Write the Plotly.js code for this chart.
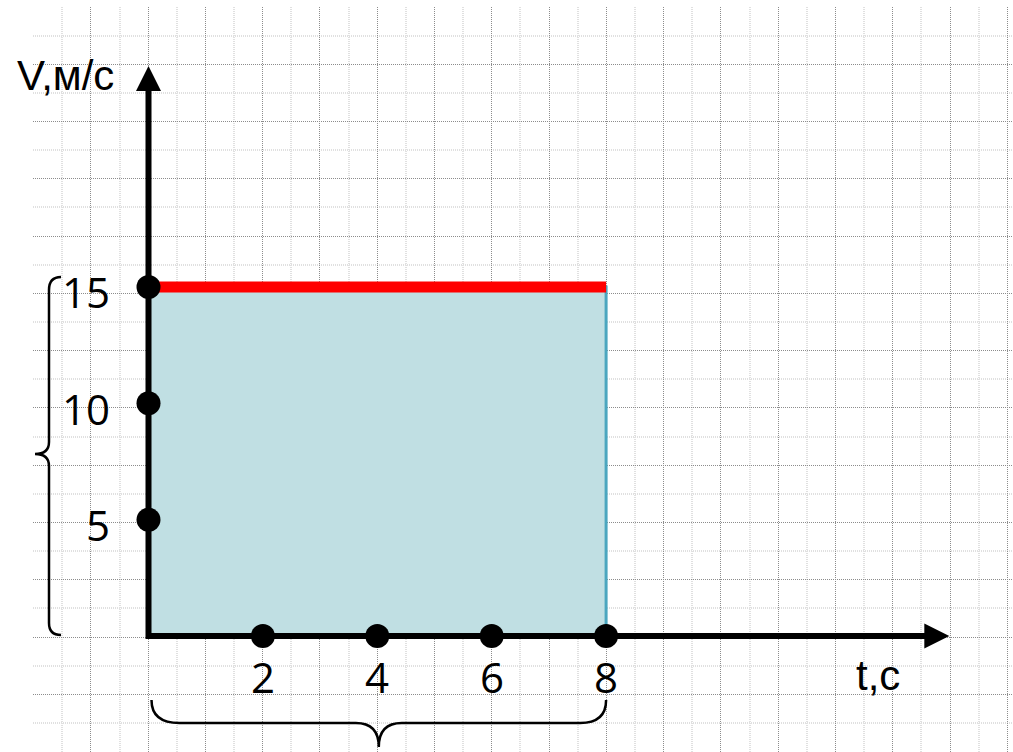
<!DOCTYPE html>
<html>
<head>
<meta charset="utf-8">
<script src="https://cdn.plot.ly/plotly-3.0.1.min.js"></script>
<style>
  html, body { margin: 0; padding: 0; background: #ffffff; }
  #chart { width: 1013px; height: 752px; }
</style>
</head>
<body>
<div id="chart"></div>
<script>
// ---- data ----
const tInterval = [0, 8];          // motion time, s
const vConstant = 15;              // constant speed, m/s
const tTickVals = [2, 4, 6, 8];
const tTickText = ['2', '4', '6', '8'];
const vTickVals = [5, 10, 15];
const vTickText = ['5', '10', '15'];
const tAxisTitle = 't,с';
const vAxisTitle = 'V,м/с';
const tAxisEnd = 14;               // arrow tip of time axis
const vAxisEnd = 24.5;             // arrow tip of speed axis

// ---- geometry (page pixels) ----
const W = 1013, H = 752;
const X0 = 148.5, XU = 57.2;       // t = 0 position, px per second
const Y0 = 636, YU = 23.27;        // v = 0 position, px per m/s
const GRID_X0 = 33.6, GRID_Y0 = 7, CELL = 28.64;

const xPx = t => X0 + t * XU;
const yPx = v => Y0 - v * YU;
const px = (x, y) => (x / W).toFixed(5) + ',' + (1 - y / H).toFixed(5);

const t0 = tInterval[0], t1 = tInterval[1];

const traces = [
  // empty trace to keep grid subplot alive
  { x: [], y: [], xaxis: 'x', yaxis: 'y', type: 'scatter', mode: 'markers', hoverinfo: 'skip', showlegend: false },
  // area under v(t)
  {
    x: [t0, t1, t1, t0, t0], y: [0, 0, vConstant, vConstant, 0],
    xaxis: 'x2', yaxis: 'y2', type: 'scatter', mode: 'lines',
    fill: 'toself', fillcolor: '#c0dfe3',
    line: { color: '#4ba6bf', width: 3 }, hoverinfo: 'skip', showlegend: false
  },
  // v(t) = const
  {
    x: [t0, t1], y: [vConstant, vConstant],
    xaxis: 'x2', yaxis: 'y2', type: 'scatter', mode: 'lines',
    line: { color: '#ff0000', width: 11 }, hoverinfo: 'skip', showlegend: false
  },
  // axes shafts
  {
    x: [tAxisEnd - 0.3, 0, 0], y: [0, 0, vAxisEnd - 0.8],
    xaxis: 'x2', yaxis: 'y2', type: 'scatter', mode: 'lines',
    line: { color: '#000000', width: 6 }, hoverinfo: 'skip', showlegend: false
  },
  // points on t-axis
  {
    x: tTickVals, y: tTickVals.map(() => 0),
    xaxis: 'x2', yaxis: 'y2', type: 'scatter', mode: 'markers',
    marker: { color: '#000000', size: 24 }, hoverinfo: 'skip', showlegend: false
  },
  // points on v-axis
  {
    x: vTickVals.map(() => 0), y: vTickVals,
    xaxis: 'x2', yaxis: 'y2', type: 'scatter', mode: 'markers',
    marker: { color: '#000000', size: 24 }, hoverinfo: 'skip', showlegend: false
  }
];

const tickFont = { family: '"Open Sans", "Noto Sans", sans-serif', size: 42, color: '#000000' };
const titleFont = { family: '"Liberation Sans", Arial, sans-serif', size: 42, color: '#000000' };

const annotations = [];
tTickVals.forEach((t, i) => annotations.push({
  x: t, y: 0, xref: 'x2', yref: 'y2', text: tTickText[i], showarrow: false,
  xanchor: 'center', yanchor: 'middle', yshift: -40, font: tickFont
}));
vTickVals.forEach((v, i) => annotations.push({
  x: 0, y: v, xref: 'x2', yref: 'y2', text: vTickText[i], showarrow: false,
  xanchor: 'right', yanchor: 'middle', xshift: -37, yshift: -5, font: tickFont
}));
// arrow heads
annotations.push({
  x: tAxisEnd, y: 0, xref: 'x2', yref: 'y2', text: '', showarrow: true,
  ax: -40, ay: 0, arrowhead: 2, arrowsize: 1, arrowwidth: 5, arrowcolor: '#000000', standoff: 0
});
annotations.push({
  x: 0, y: vAxisEnd, xref: 'x2', yref: 'y2', text: '', showarrow: true,
  ax: 0, ay: 40, arrowhead: 2, arrowsize: 1, arrowwidth: 5, arrowcolor: '#000000', standoff: 0
});
// axis titles
annotations.push({
  x: 15 / W, y: 1 - 75.5 / H, xref: 'paper', yref: 'paper', text: vAxisTitle, showarrow: false,
  xanchor: 'left', yanchor: 'middle', font: titleFont
});
annotations.push({
  x: 878 / W, y: 1 - 675.5 / H, xref: 'paper', yref: 'paper', text: tAxisTitle, showarrow: false,
  xanchor: 'center', yanchor: 'middle', font: titleFont
});

// braces (decoration), built from the data extents
const bx0 = xPx(t0) + 3, bx1 = xPx(t1), bxm = (bx0 + bx1) / 2;
const byTop = 700, byMid = 723, byTip = 747;
const bottomBrace = 'M' + px(bx0, byTop) +
  ' Q' + px(bx0, byMid) + ' ' + px(bx0 + 28, byMid) +
  ' L' + px(bxm - 23, byMid) +
  ' Q' + px(bxm, byMid) + ' ' + px(bxm, byTip) +
  ' Q' + px(bxm, byMid) + ' ' + px(bxm + 23, byMid) +
  ' L' + px(bx1 - 26, byMid) +
  ' Q' + px(bx1, byMid) + ' ' + px(bx1, byTop);

const ly0 = yPx(0) - 1, ly1 = yPx(vConstant) - 10, lym = (ly0 + ly1) / 2 - 2;
const lxEnd = 61, lxMid = 49, lxTip = 35;
const leftBrace = 'M' + px(lxEnd, ly1) +
  ' Q' + px(lxMid, ly1) + ' ' + px(lxMid, ly1 + 13) +
  ' L' + px(lxMid, lym - 12) +
  ' Q' + px(lxMid, lym) + ' ' + px(lxTip, lym) +
  ' Q' + px(lxMid, lym) + ' ' + px(lxMid, lym + 12) +
  ' L' + px(lxMid, ly0 - 12) +
  ' Q' + px(lxMid, ly0) + ' ' + px(lxEnd, ly0);

const shapes = [
  { type: 'path', xref: 'paper', yref: 'paper', path: bottomBrace, line: { color: '#000000', width: 2.5 } },
  { type: 'path', xref: 'paper', yref: 'paper', path: leftBrace, line: { color: '#000000', width: 2.5 } }
];

const gridAxis = (t0g) => ({
  showgrid: true, gridcolor: '#8c8c8c', griddash: '1px,1px', gridwidth: 1,
  tick0: t0g, dtick: 2 * CELL, tickmode: 'linear',
  minor: { showgrid: true, tick0: t0g + CELL, dtick: 2 * CELL, gridcolor: '#e0e0e0', gridwidth: 2 },
  showticklabels: false, ticks: '', zeroline: false, showline: false, fixedrange: true
});

const layout = {
  width: W, height: H,
  margin: { l: 0, r: 0, t: 0, b: 0, pad: 0 },
  paper_bgcolor: '#ffffff', plot_bgcolor: 'rgba(0,0,0,0)',
  showlegend: false,
  xaxis: Object.assign(gridAxis(GRID_X0), { domain: [GRID_X0 / W - 0.0005, 1], range: [GRID_X0 - 0.5, W], anchor: 'y' }),
  yaxis: Object.assign(gridAxis(GRID_Y0), { domain: [0, 1 - (GRID_Y0 - 0.5) / H], range: [H, GRID_Y0 - 0.5], anchor: 'x' }),
  xaxis2: { domain: [0, 1], range: [-X0 / XU, (W - X0) / XU], anchor: 'y2', visible: false, fixedrange: true },
  yaxis2: { domain: [0, 1], range: [-(H - Y0) / YU, Y0 / YU], anchor: 'x2', visible: false, fixedrange: true },
  annotations: annotations,
  shapes: shapes
};

Plotly.newPlot('chart', traces, layout, { displayModeBar: false, staticPlot: true });
</script>
</body>
</html>
